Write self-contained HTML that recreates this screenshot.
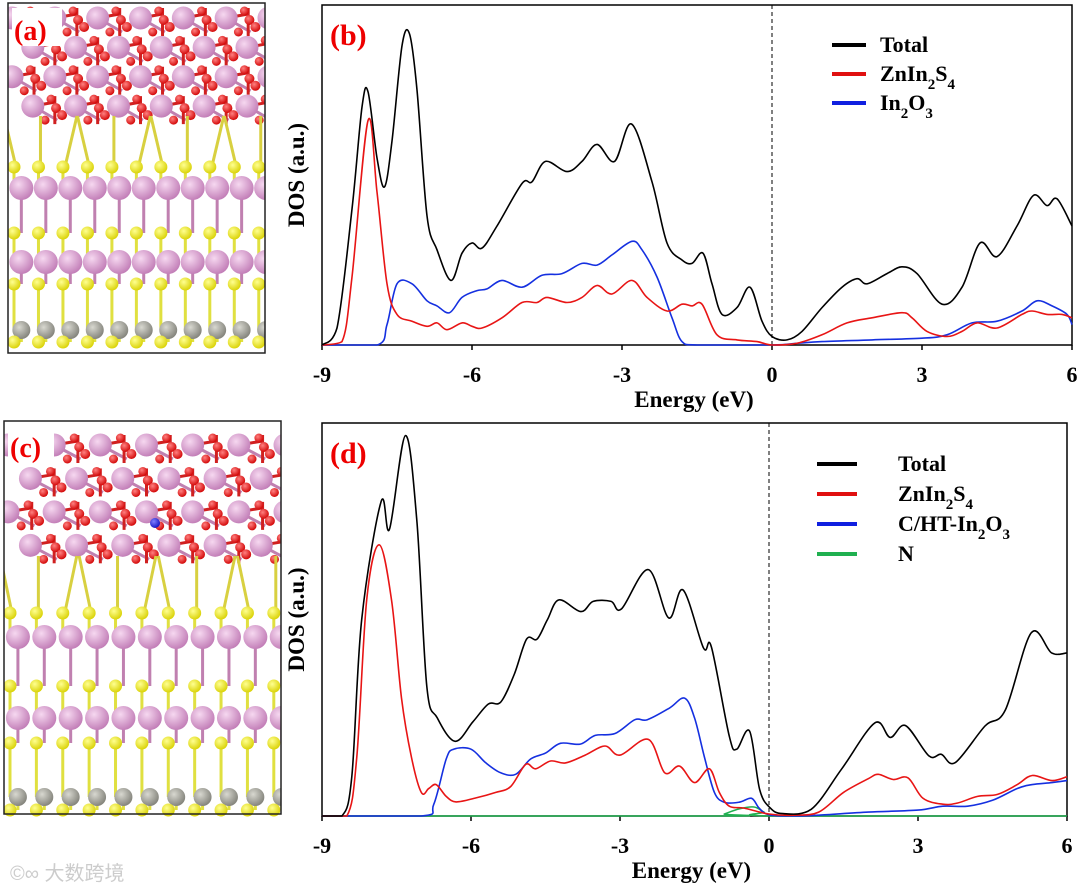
<!DOCTYPE html>
<html><head><meta charset="utf-8">
<style>
html,body{margin:0;padding:0;background:#fff;}
body{width:1080px;height:893px;position:relative;overflow:hidden;font-family:"Liberation Serif",serif;}
svg{position:absolute;left:0;top:0;}
</style></head>
<body>
<svg id="fig" width="1080" height="893" viewBox="0 0 1080 893">
  <g id="crysA"></g>
  <g id="crysC"></g>
  <rect x="8" y="3" width="257" height="350" fill="none" stroke="#222" stroke-width="1.5"/>
  <rect x="4" y="421" width="277" height="393" fill="none" stroke="#222" stroke-width="1.5"/>
  <rect x="12" y="8" width="50" height="38" fill="#fff"/>
  <text x="14" y="40" font-size="28" font-weight="bold" fill="#e00">(a)</text>
  <rect x="8" y="426" width="46" height="38" fill="#fff"/>
  <text x="10" y="457" font-size="28" font-weight="bold" fill="#e00">(c)</text>
  <g id="chartB"></g>
  <g id="chartD"></g>
  <text x="10" y="880" font-size="20" fill="#ccc" font-family="'Liberation Sans','Noto Sans CJK SC',sans-serif">©∞ 大数跨境</text>
</svg>
<script>
// ---------- Panel (b) data ----------
const bTotalE=[-9,-8.7,-8.4,-8.2,-8.08,-7.9,-7.75,-7.6,-7.4,-7.25,-7.1,-6.9,-6.7,-6.42,-6.2,-6.0,-5.8,-5.5,-5.0,-4.8,-4.53,-4.1,-3.8,-3.5,-3.15,-2.81,-2.4,-2.1,-1.8,-1.6,-1.38,-1.2,-1.0,-0.7,-0.44,-0.2,0,0.3,0.6,1.0,1.4,1.7,1.9,2.3,2.6,2.9,3.4,3.8,4.16,4.5,4.9,5.23,5.5,5.7,6];
const bTotalV=[0,5,40,70,74.5,55,46.5,60,88,91.5,75,38,28,19,27,30,28.5,35,47.5,48,54,51,54,59,54,65,48,30,25,24,27,18,9,11,17,7,2.5,1.5,4,11,17,19.5,18,21,23,21,12,17,30,26,35,44,41,43,35];
const bRedE=[-9,-8.6,-8.4,-8.08,-7.9,-7.7,-7.5,-7.2,-6.9,-6.7,-6.5,-6.2,-6.0,-5.8,-5.4,-5.0,-4.7,-4.5,-4.1,-3.8,-3.5,-3.2,-2.8,-2.5,-2.1,-1.8,-1.6,-1.4,-1.1,-0.7,-0.3,0,0.5,1.0,1.5,2.0,2.6,2.8,3.1,3.5,3.8,4.1,4.5,5.0,5.2,5.5,5.8,6];
const bRedV=[0,1,20,66,45,18,9,7,5.5,6.5,4.5,6.5,5.5,5,8,12.5,12.5,14,12.5,14,17.5,15,19,14,10,12,11.5,12,3,1.5,1,0,0.5,3,6.5,8,9.5,8,4,2.5,4,6.5,5,9,10,9,9,8];
const bBlueE=[-9,-7.9,-7.7,-7.5,-7.2,-6.9,-6.7,-6.45,-6.2,-5.9,-5.7,-5.4,-5.0,-4.6,-4.2,-3.8,-3.5,-3.2,-2.8,-2.6,-2.3,-2.0,-1.8,-1.5,0,0.5,1,2,3,3.5,4,4.5,5.0,5.3,5.6,5.9,6];
const bBlueV=[0,0,6,18,18,13,11.5,9.5,14,16,16.5,19,17,20.5,21,24,23.5,26.5,30.5,28,20,8,1,0,0,0.5,1,1.5,2,3,6.5,7,10,13,11.5,9,6];
// ---------- Panel (d) data ----------
const dTotalE=[-9,-8.6,-8.4,-8.2,-7.81,-7.64,-7.32,-7.09,-6.89,-6.68,-6.32,-5.96,-5.65,-5.4,-5.13,-4.88,-4.67,-4.46,-4.23,-3.79,-3.54,-3.18,-2.97,-2.43,-2.02,-1.73,-1.32,-1.16,-0.8,-0.65,-0.39,-0.19,0.02,0.28,0.85,1.46,2.13,2.44,2.75,3.22,3.47,3.75,4.35,4.76,5.28,5.69,6];
const dTotalV=[0,0,10,50,80,73,96.8,75,33,25,19,24,28.5,29,36,45,45,50,55,52,54.6,54.6,52.7,62.7,50.4,57.5,42.8,43,20.3,17,21.6,6.8,2.1,0.6,1.7,11.9,23.7,20,23,15.3,15.7,13.6,22.9,27,46.6,41.5,41.5];
const dRedE=[-9,-8.5,-8.3,-8.1,-7.85,-7.6,-7.4,-7.2,-7.0,-6.85,-6.7,-6.5,-6.3,-5.9,-5.5,-5.2,-4.9,-4.7,-4.4,-4.1,-3.7,-3.3,-3.0,-2.43,-2.1,-1.8,-1.5,-1.2,-1.0,-0.8,-0.5,0,0.5,1.0,1.5,2.0,2.2,2.5,2.8,3.1,3.5,3.8,4.2,4.6,5.0,5.3,5.7,6];
const dRedV=[0,0,15,55,69,55,30,15,6,7,8,5,3.6,4.6,6,7.5,13.1,12,14,13.5,15.5,17.8,15.5,19.5,11,12.7,8.5,12,6,2.5,2,0.5,0.2,1,6,9.5,10.6,9.3,9.7,4.5,3,3.3,5,5.5,8,10.3,9,10];
const dBlueE=[-9,-7.0,-6.75,-6.5,-6.35,-6.0,-5.7,-5.4,-5.1,-4.8,-4.5,-4.2,-3.8,-3.5,-3.1,-2.7,-2.45,-2.0,-1.7,-1.5,-1.3,-1.1,-0.9,-0.6,-0.35,-0.2,0,0.5,1,2,3,3.5,4,4.5,5,5.3,5.7,6];
const dBlueV=[0,0,3,14.5,17,17,13.5,11,10.6,14.5,16,18.5,18.3,20.5,21,24.5,24.5,27.5,30,25,15,6,3.5,3.5,4.5,2,0.3,0,0.2,1,1.5,2.5,2.5,4,7,8,8.5,9];
const dGreenE=[-9,-1,-0.9,-0.6,-0.3,-0.1,0.1,6];
const dGreenV=[0,0,0.5,1.8,2.3,1,0,0];
const xTicks=[-9,-6,-3,0,3,6];

const NS="http://www.w3.org/2000/svg";
function mk(tag,attrs,parent){const e=document.createElementNS(NS,tag);for(const k in attrs)e.setAttribute(k,attrs[k]);if(parent)parent.appendChild(e);return e;}

function spline(pts,yb){
  const cl=v=>Math.min(v,yb);
  let d="M"+pts[0][0].toFixed(1)+","+pts[0][1].toFixed(1);
  for(let i=0;i<pts.length-1;i++){
    const p0=pts[Math.max(0,i-1)],p1=pts[i],p2=pts[i+1],p3=pts[Math.min(pts.length-1,i+2)];
    const c1=[p1[0]+(p2[0]-p0[0])/6,cl(p1[1]+(p2[1]-p0[1])/6)];
    const c2=[p2[0]-(p3[0]-p1[0])/6,cl(p2[1]-(p3[1]-p1[1])/6)];
    d+=" C"+c1[0].toFixed(1)+","+c1[1].toFixed(1)+" "+c2[0].toFixed(1)+","+c2[1].toFixed(1)+" "+p2[0].toFixed(1)+","+p2[1].toFixed(1);
  }
  return d;
}

function drawChart(g,box,series,legend,label){
  const sx=e=>box.l+(e+9)/15*(box.r-box.l);
  const sy=v=>box.b-v/100*(box.b-box.t);
  mk("rect",{x:box.l,y:box.t,width:box.r-box.l,height:box.b-box.t,fill:"none",stroke:"#000","stroke-width":1.5,},g);
  mk("line",{x1:sx(0),x2:sx(0),y1:box.t,y2:box.b,stroke:"#000","stroke-width":1,"stroke-dasharray":"4,3",},g);
  xTicks.forEach(t=>{
    const tk=mk("line",{x1:sx(t),x2:sx(t),y1:box.b,y2:box.b+5,stroke:"#000","stroke-width":1.5},g);
    
    
    const tl=mk("text",{x:sx(t),y:box.b+37,"font-size":22,"font-weight":"bold","text-anchor":"middle"},g);
    
    
    tl.textContent=String(t);
  });
  series.forEach(s=>{
    const pts=s.e.map((e,i)=>[sx(e),sy(s.v[i])]);
    const p=mk("path",{d:spline(pts,box.b),fill:"none",stroke:s.c,"stroke-width":1.6},g);
    
    
  });
  legend.forEach((L,i)=>{
    const y=legend.y0+i*legend.dy;
    const ln=mk("line",{x1:legend.x1,x2:legend.x2,y1:y,y2:y,stroke:L.c,"stroke-width":4},g);
    
    
    const t=mk("text",{x:legend.tx,y:y+7,"font-size":22,"font-weight":"bold"},g);
    
    
    t.innerHTML=L.h;
  });
  const pl=mk("text",{x:box.l+8,y:box.t+label.dy,"font-size":30,"font-weight":"bold",fill:"#e00"},g);
  
  
  pl.textContent=label.t;
  const yt=mk("text",{transform:"translate("+(box.l-18)+","+((box.t+box.b)/2)+") rotate(-90)","font-size":23,"font-weight":"bold","text-anchor":"middle"},g);
  
  
  yt.textContent="DOS (a.u.)";
  const xt=mk("text",{x:(box.l+box.r)/2-3,y:box.b+62,"font-size":23,"font-weight":"bold","text-anchor":"middle"},g);
  
  
  xt.textContent="Energy (eV)";
}
const sub=s=>'<tspan baseline-shift="sub" font-size="15">'+s+'</tspan>';
const legB=[{c:"#000",h:"Total"},{c:"#e01010",h:"ZnIn"+sub(2)+"S"+sub(4)},{c:"#1020e0",h:"In"+sub(2)+"O"+sub(3)}];
legB.x1=832;legB.x2=866;legB.tx=880;legB.y0=45;legB.dy=29;
drawChart(document.getElementById("chartB"),{l:322,r:1072,t:5,b:345},[
 {e:bBlueE,v:bBlueV,c:"#1530e0",n:"in2o3-curve"},
 {e:bRedE,v:bRedV,c:"#e81515",n:"znin2s4-curve"},
 {e:bTotalE,v:bTotalV,c:"#000",n:"total-curve"}],legB,{t:"(b)",dy:40});
const legD=[{c:"#000",h:"Total"},{c:"#e01010",h:"ZnIn"+sub(2)+"S"+sub(4)},{c:"#1020e0",h:"C/HT-In"+sub(2)+"O"+sub(3)},{c:"#20b050",h:"N"}];
legD.x1=817;legD.x2=857;legD.tx=898;legD.y0=464;legD.dy=30;
drawChart(document.getElementById("chartD"),{l:322,r:1067,t:423,b:816},[
 {e:dGreenE,v:dGreenV,c:"#20b050",n:"n-curve"},
 {e:dBlueE,v:dBlueV,c:"#1530e0",n:"c-ht-in2o3-curve"},
 {e:dRedE,v:dRedV,c:"#e81515",n:"znin2s4-curve"},
 {e:dTotalE,v:dTotalV,c:"#000",n:"total-curve"}],legD,{t:"(d)",dy:40});

// ---------- crystal structures ----------
function ball(g,x,y,r,c){
  const grd = c==="p"?"url(#gp)":c==="y"?"url(#gy)":c==="r"?"url(#gr)":c==="b"?"url(#gb)":"url(#gg)";
  mk("circle",{cx:x,cy:y,r:r,fill:grd},g);
}
const defs=mk("defs",{},document.getElementById("fig"));
[["gp","#f6d8f0","#c07ab5"],["gy","#ffff90","#d8d000"],["gr","#ff8080","#d00000"],["gg","#d8d8d0","#808078"],["gb","#8080ff","#1010c0"]].forEach(a=>{
  const lg=mk("radialGradient",{id:a[0],cx:"0.38",cy:"0.35",r:"0.7"},defs);
  mk("stop",{offset:"0",'stop-color':a[1]},lg);mk("stop",{offset:"1",'stop-color':a[2]},lg);
});
function crystal(g,x0,x1,y0,rows,oxTop,oxBot,nDot){
  const cp=mk("clipPath",{id:"cp"+y0},defs);
  mk("rect",{x:x0,y:y0,width:x1-x0,height:400},cp);
  const G=mk("g",{"clip-path":"url(#cp"+y0+")"},g);
  const step=(x1-x0)/10.5;
  for(let r=0;r<4;r++){
    const y=oxTop+r*(oxBot-oxTop)/3.2;
    for(let i=0;i<7;i++){
      const x=x0+4+i*step*1.75+(r%2)*step*0.85;
      mk("line",{x1:x,y1:y,x2:x+step,y2:y+14,stroke:"#c080b0","stroke-width":3},G);
      mk("line",{x1:x,y1:y,x2:x+step*0.9,y2:y-4,stroke:"#d02020","stroke-width":3},G);
      mk("line",{x1:x+step*0.9,y1:y-10,x2:x+step*0.9,y2:y+18,stroke:"#d02020","stroke-width":3},G);
      ball(G,x,y,11.5,"p");
      ball(G,x+step*0.95,y+2,5,"r");ball(G,x+step*0.95+6,y+9,5,"r");ball(G,x+step*0.95-5,y-7,4.5,"r");ball(G,x+step*0.5,y+14,4.5,"r");
    }
  }
  if(nDot) ball(G,nDot[0],nDot[1],5,"b");
  const yl=rows[0];
  for(let i=0;i<11;i++){const x=x0+8+i*step;mk("line",{x1:x,y1:yl,x2:x+((i%3)-1)*12,y2:oxBot+4,stroke:"#d8d040","stroke-width":3},G);}
  rows.forEach((y,ri)=>{
    const t=rowTypes[ri];
    for(let i=0;i<12;i++){
      const x=x0+6+i*step+(ri%2)*step*0.3;
      if(ri<rows.length-1) mk("line",{x1:x,y1:y,x2:x,y2:rows[ri+1],stroke:t==="p"?"#c080b0":"#e0e040","stroke-width":3},G);
      ball(G,x,y,t==="p"?12:t==="g"?9:6.5,t);
    }
  });
}
const rowTypes=["y","p","y","p","y","g","y"];
crystal(document.getElementById("crysA"),8,265,3,[167,188,233,262,284,330,342],18,112,null);
crystal(document.getElementById("crysC"),4,281,421,[613,637,686,718,743,797,810],445,552,[155,523]);
</script>
</body></html>
